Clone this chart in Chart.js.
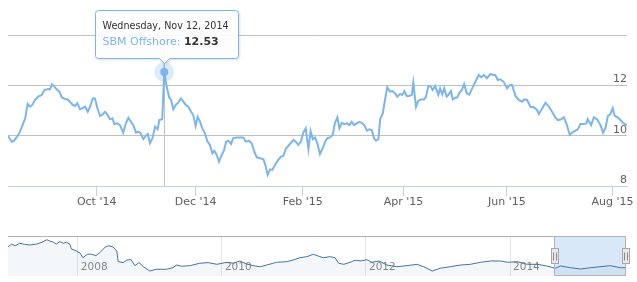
<!DOCTYPE html>
<html>
<head>
<meta charset="utf-8">
<title>SBM Offshore</title>
<script src="https://cdn.jsdelivr.net/npm/chart.js@4.4.0/dist/chart.umd.min.js"></script>
<style>
  html, body { margin: 0; padding: 0; background: #fff; }
  #wrap { position: relative; width: 637px; height: 282px; overflow: hidden; }
  #main { position: absolute; left: 0; top: 0; }
  #nav  { position: absolute; left: 0; top: 225px; }
</style>
</head>
<body>
<div id="wrap">
  <canvas id="main" width="637" height="225"></canvas>
  <canvas id="nav" width="637" height="57"></canvas>
</div>
<script>
// ── Data ──────────────────────────────────────────────────────────────────
const seriesName = 'SBM Offshore';

// position on the ordinal (trading-day) axis, mid Aug 2014 → mid Aug 2015
const tradingDay = [
  0, 1.5, 2.4, 3.5, 4.9, 6.2, 7.0, 8.0, 9.0, 9.9,
  11.0, 12.3, 13.7, 14.8, 16.4, 17.1, 17.9, 18.9, 19.8, 20.9,
  21.9, 23.2, 24.3, 25.2, 26.3, 27.3, 28.2, 29.3, 30.3, 31.4,
  32.5, 33.4, 34.5, 35.4, 36.4, 37.5, 38.6, 39.5, 40.4, 41.5,
  42.5, 43.3, 44.5, 45.6, 46.9, 48.0, 49.0, 50.1, 51.0, 52.1,
  53.1, 54.0, 55.1, 56.1, 56.9, 57.8, 58.8, 59.9, 60.9, 61.6,
  62.8, 63.6, 64.6, 65.6, 66.4, 67.3, 68.3, 69.3, 70.4, 71.4,
  72.4, 73.4, 74.5, 75.4, 76.4, 77.2, 78.2, 79.1, 80.2, 81.1,
  82.2, 83.2, 84.0, 85.0, 85.9, 87.0, 87.9, 88.8, 89.7, 90.8,
  91.7, 93.1, 94.9, 95.8, 96.8, 98.1, 99.2, 100.3, 101.3, 102.6,
  104.0, 104.9, 105.7, 106.7, 107.6, 108.7, 109.8, 111.0, 112.1, 113.2,
  114.1, 115.2, 116.2, 117.1, 118.2, 119.2, 120.2, 121.2, 122.3, 123.2,
  124.1, 125.0, 125.9, 127.0, 128.1, 129.1, 130.0, 131.1, 132.2, 133.1,
  134.1, 134.9, 135.9, 136.9, 137.9, 139.0, 139.9, 140.9, 142.0, 143.0,
  144.0, 145.0, 146.1, 147.1, 148.1, 149.0, 149.8, 150.8, 151.5, 152.6,
  153.5, 154.4, 155.5, 156.5, 157.6, 158.5, 159.6, 160.5, 161.4, 162.3,
  163.3, 164.4, 165.0, 166.1, 167.1, 168.2, 169.4, 170.2, 171.1, 172.1,
  172.9, 173.9, 174.6, 175.2, 175.9, 176.8, 177.6, 178.6, 179.3, 180.3,
  181.1, 182.3, 182.9, 183.8, 184.7, 185.7, 186.8, 187.8, 189.6, 191.6,
  192.6, 193.7, 195.0, 196.4, 197.5, 198.4, 199.4, 200.4, 201.8, 203.2,
  204.3, 205.2, 206.6, 207.9, 209.3, 210.2, 211.3, 212.7, 214.0, 215.4,
  216.1, 217.1, 218.8, 220.2, 221.5, 222.8, 223.8, 225.2, 226.3, 227.3,
  228.7, 229.6, 231.0, 232.0, 233.0, 234.4, 235.5, 236.0, 237.4, 238.5,
  239.8, 241.2, 242.3, 243.2, 244.2, 245.2, 246.2, 247.0, 248.2, 249.6,
  250.6, 252.0
];

const price = [
  10.00, 9.76, 9.79, 9.93, 10.16, 10.49, 10.69, 11.26, 11.15, 11.22,
  11.42, 11.55, 11.62, 11.81, 11.85, 11.84, 12.04, 11.95, 11.84, 11.75,
  11.52, 11.46, 11.44, 11.35, 11.22, 11.18, 11.29, 11.05, 11.09, 11.15,
  10.95, 11.15, 11.48, 11.48, 11.09, 10.78, 10.85, 10.95, 10.85, 10.65,
  10.69, 10.46, 10.49, 10.42, 10.12, 10.49, 10.71, 10.55, 10.42, 10.12,
  10.16, 10.09, 9.86, 9.99, 10.07, 9.70, 9.90, 10.36, 10.25, 10.62,
  10.65, 12.53, 11.95, 11.52, 11.42, 11.05, 11.22, 11.31, 11.48, 11.35,
  11.22, 11.15, 10.95, 10.82, 10.38, 10.75, 10.55, 10.29, 10.09, 9.79,
  9.63, 9.30, 9.40, 9.23, 8.97, 9.23, 9.40, 9.76, 9.80, 9.67,
  9.90, 9.93, 9.93, 9.93, 9.76, 9.79, 9.70, 9.36, 9.14, 9.10,
  9.06, 8.79, 8.44, 8.66, 8.64, 8.83, 9.01, 9.16, 9.19, 9.50,
  9.59, 9.72, 9.83, 9.76, 9.63, 9.76, 10.12, 10.29, 9.46, 10.18,
  9.86, 9.93, 9.70, 9.27, 9.50, 9.76, 9.90, 9.93, 10.03, 10.51,
  10.73, 10.29, 10.51, 10.46, 10.49, 10.42, 10.55, 10.42, 10.49, 10.55,
  10.51, 10.42, 10.20, 10.25, 10.22, 9.90, 9.80, 9.86, 10.65, 10.89,
  11.44, 11.92, 11.75, 11.77, 11.68, 11.55, 11.66, 11.62, 11.77, 11.58,
  11.58, 11.62, 12.10, 11.15, 11.39, 11.44, 11.44, 11.55, 11.97, 11.95,
  11.81, 11.97, 11.79, 11.62, 11.88, 11.64, 11.88, 11.55, 11.62, 11.77,
  11.44, 11.52, 11.52, 11.71, 11.81, 12.05, 11.68, 11.64, 12.01, 12.41,
  12.32, 12.41, 12.28, 12.45, 12.41, 12.41, 12.21, 12.24, 12.14, 11.88,
  12.01, 12.01, 11.58, 11.42, 11.35, 11.44, 11.42, 11.15, 11.13, 11.02,
  10.86, 11.02, 11.31, 11.15, 10.95, 10.73, 10.62, 10.65, 10.73, 10.49,
  10.03, 10.12, 10.20, 10.25, 10.46, 10.46, 10.49, 10.65, 10.42, 10.73,
  10.65, 10.42, 10.12, 10.29, 10.78, 10.86, 11.09, 10.78, 10.73, 10.59,
  10.49, 10.42
];

const dayRange        = [0, 252];
const monthTickPos    = [36.1, 76.4, 120.0, 161.0, 203.1, 246.1];
const monthTickLabels = ["Oct '14", "Dec '14", "Feb '15", "Apr '15", "Jun '15", "Aug '15"];
const priceTicks      = [8, 10, 12, 14];

const hoverDay   = 63.6;
const hoverLabel = 'Wednesday, Nov 12, 2014';

// navigator: full history since early 2007 (decimal years)
const navYear = [
  2007.03, 2007.08, 2007.13, 2007.19, 2007.26, 2007.33, 2007.43, 2007.50, 2007.57, 2007.61,
  2007.66, 2007.70, 2007.75, 2007.80, 2007.84, 2007.89, 2007.91, 2007.98, 2008.03, 2008.07,
  2008.13, 2008.19, 2008.25, 2008.31, 2008.38, 2008.43, 2008.49, 2008.54, 2008.56, 2008.63,
  2008.68, 2008.74, 2008.79, 2008.85, 2008.91, 2009.00, 2009.09, 2009.23, 2009.32, 2009.37,
  2009.44, 2009.56, 2009.69, 2009.81, 2009.93, 2010.07, 2010.16, 2010.25, 2010.34, 2010.43,
  2010.53, 2010.62, 2010.76, 2010.90, 2010.99, 2011.08, 2011.18, 2011.27, 2011.36, 2011.41,
  2011.50, 2011.57, 2011.62, 2011.69, 2011.78, 2011.85, 2011.93, 2012.01, 2012.08, 2012.18,
  2012.29, 2012.43, 2012.57, 2012.71, 2012.80, 2012.92, 2013.03, 2013.17, 2013.31, 2013.45,
  2013.59, 2013.73, 2013.87, 2013.96, 2014.10, 2014.24, 2014.38, 2014.51, 2014.63, 2014.70,
  2014.84, 2014.98, 2015.12, 2015.25, 2015.39, 2015.53, 2015.61
];
const navValue = [
  27.1, 29.1, 27.9, 29.9, 29.1, 28.5, 29.3, 30.8, 32.9, 31.8,
  30.8, 29.3, 31.3, 29.9, 30.8, 29.1, 25.2, 23.5, 21.8, 17.9,
  20.8, 20.8, 19.6, 22.4, 26.8, 27.9, 26.8, 23.5, 14.6, 13.8,
  16.0, 16.3, 11.3, 13.8, 10.4, 6.8, 8.3, 8.3, 9.6, 11.8,
  10.8, 11.3, 13.3, 13.8, 12.4, 14.1, 13.3, 15.2, 12.7, 11.3,
  10.4, 11.8, 14.1, 14.6, 16.0, 17.9, 18.8, 20.8, 18.8, 17.9,
  18.8, 17.9, 13.3, 12.4, 14.1, 15.8, 15.2, 16.3, 14.1, 15.2,
  11.8, 10.4, 11.3, 12.4, 10.4, 6.8, 9.1, 10.4, 11.8, 12.4,
  14.1, 15.2, 15.2, 14.1, 14.6, 12.4, 12.4, 11.0, 9.1, 11.0,
  9.6, 8.5, 9.6, 10.4, 11.3, 9.6, 9.6
];
const navRange      = [2007.03, 2015.61];
const navValueRange = [2.67, 36];
const navTickYears  = [2008, 2010, 2012, 2014];
const navSelection  = [2014.615, 2015.61];

// ── Shared look ───────────────────────────────────────────────────────────
Chart.defaults.font.family = "'DejaVu Sans', Verdana, sans-serif";
Chart.defaults.animation = false;

const LINE_COLOR = '#7cb5ec';
const LABEL_COLOR = '#606060';

function hoverPoint(chart) {
  const idx = tradingDay.indexOf(hoverDay);
  return { el: chart.getDatasetMeta(0).data[idx], value: price[idx] };
}

// ── Crosshair, hover marker and tooltip ───────────────────────────────────
const hoverPlugin = {
  id: 'hover',
  beforeDatasetsDraw(chart) {
    const { ctx, chartArea } = chart;
    const { el } = hoverPoint(chart);
    const x = Math.round(el.x) + 0.5;
    ctx.save();
    ctx.strokeStyle = '#c0c0c0';
    ctx.lineWidth = 1;
    ctx.beginPath();
    ctx.moveTo(x, chartArea.top);
    ctx.lineTo(x, chartArea.bottom);
    ctx.stroke();
    ctx.restore();
  },
  afterDatasetsDraw(chart) {
    const { ctx } = chart;
    const { el, value } = hoverPoint(chart);
    const px = el.x, py = el.y;

    ctx.save();
    // halo + marker
    ctx.fillStyle = 'rgba(124,181,236,0.25)';
    ctx.beginPath(); ctx.arc(px, py, 10, 0, Math.PI * 2); ctx.fill();
    ctx.fillStyle = LINE_COLOR;
    ctx.beginPath(); ctx.arc(px, py, 4, 0, Math.PI * 2); ctx.fill();

    // callout box
    const cx = Math.round(px) + 0.5;
    const bw = 143, bh = 48, r = 3;
    const bx = cx - 69, by = 10.5;
    const tipY = by + bh + 5;
    ctx.beginPath();
    ctx.moveTo(bx + r, by);
    ctx.lineTo(bx + bw - r, by);
    ctx.arcTo(bx + bw, by, bx + bw, by + r, r);
    ctx.lineTo(bx + bw, by + bh - r);
    ctx.arcTo(bx + bw, by + bh, bx + bw - r, by + bh, r);
    ctx.lineTo(cx + 5, by + bh);
    ctx.lineTo(cx, tipY);
    ctx.lineTo(cx - 5, by + bh);
    ctx.lineTo(bx + r, by + bh);
    ctx.arcTo(bx, by + bh, bx, by + bh - r, r);
    ctx.lineTo(bx, by + r);
    ctx.arcTo(bx, by, bx + r, by, r);
    ctx.closePath();
    ctx.shadowColor = 'rgba(0,0,0,0.18)';
    ctx.shadowBlur = 3;
    ctx.shadowOffsetX = 1;
    ctx.shadowOffsetY = 1;
    ctx.fillStyle = 'rgba(255,255,255,0.94)';
    ctx.fill();
    ctx.shadowColor = 'transparent';
    ctx.strokeStyle = LINE_COLOR;
    ctx.lineWidth = 1;
    ctx.stroke();

    // text
    const tx = bx + 7;
    ctx.textBaseline = 'middle';
    ctx.textAlign = 'left';
    ctx.font = "9.6px 'DejaVu Sans'";
    ctx.fillStyle = '#333333';
    ctx.fillText(hoverLabel, tx, by + 16);

    ctx.font = "11px 'DejaVu Sans'";
    ctx.fillStyle = LINE_COLOR;
    const nameText = seriesName + ': ';
    ctx.fillText(nameText, tx, by + 32);
    const w = ctx.measureText(nameText).width;
    ctx.font = "bold 11px 'DejaVu Sans'";
    ctx.fillStyle = '#333333';
    ctx.fillText(value.toFixed(2), tx + w, by + 32);
    ctx.restore();
  }
};

// ── Main price chart ──────────────────────────────────────────────────────
new Chart(document.getElementById('main'), {
  type: 'line',
  data: {
    datasets: [{
      label: seriesName,
      data: tradingDay.map((d, i) => ({ x: d, y: price[i] })),
      borderColor: LINE_COLOR,
      borderWidth: 2,
      pointRadius: 0,
      tension: 0,
      fill: false
    }]
  },
  options: {
    responsive: false,
    events: [],
    layout: { padding: { left: 8, right: 10, top: 35, bottom: 15.8 } },
    plugins: { legend: { display: false }, tooltip: { enabled: false } },
    scales: {
      x: {
        type: 'linear',
        min: dayRange[0],
        max: dayRange[1],
        afterBuildTicks: axis => { axis.ticks = monthTickPos.map(v => ({ value: v })); },
        grid: { drawOnChartArea: false, drawTicks: true, tickLength: 10, color: '#c0d0e0' },
        border: { display: true, color: '#c0d0e0', width: 1 },
        ticks: {
          autoSkip: false,
          maxRotation: 0,
          padding: 0,
          color: LABEL_COLOR,
          font: { size: 11 },
          callback: (v, i) => monthTickLabels[i]
        }
      },
      y: {
        position: 'right',
        min: priceTicks[0],
        max: priceTicks[priceTicks.length - 1],
        afterBuildTicks: axis => { axis.ticks = priceTicks.map(v => ({ value: v })); },
        grid: { color: '#c0c0c0', drawTicks: false },
        border: { display: false },
        ticks: {
          mirror: true,
          padding: 0,
          labelOffset: -6,
          color: LABEL_COLOR,
          font: { size: 11 },
          callback: v => (v === priceTicks[priceTicks.length - 1] ? '' : String(v))
        }
      }
    }
  },
  plugins: [hoverPlugin]
});

// ── Navigator mask, outline and handles ───────────────────────────────────
const navPlugin = {
  id: 'navMask',
  beforeDatasetsDraw(chart) {
    const { ctx, chartArea: a, scales: { x } } = chart;
    const x0 = x.getPixelForValue(navSelection[0]);
    const x1 = x.getPixelForValue(navSelection[1]);
    ctx.save();
    ctx.fillStyle = 'rgba(128,179,236,0.3)';
    ctx.fillRect(x0, a.top, x1 - x0, a.bottom - a.top);
    ctx.restore();
  },
  afterDatasetsDraw(chart) {
    const { ctx, chartArea: a, scales: { x } } = chart;
    const x0 = Math.round(x.getPixelForValue(navSelection[0])) + 0.5;
    const x1 = Math.round(x.getPixelForValue(navSelection[1])) - 0.5;
    const top = Math.round(a.top) + 0.5;
    const bot = Math.round(a.bottom) - 0.5;
    ctx.save();
    ctx.strokeStyle = '#b2b1b6';
    ctx.lineWidth = 1;
    ctx.beginPath();
    ctx.moveTo(a.left, top); ctx.lineTo(a.right, top);
    ctx.moveTo(x0, top); ctx.lineTo(x0, bot); ctx.lineTo(x1, bot); ctx.lineTo(x1, top);
    ctx.stroke();

    // handles
    const mid = Math.round((a.top + a.bottom) / 2);
    [x0, x1].forEach(hx => {
      const left = Math.round(hx - 4) + 0.5;
      ctx.fillStyle = '#ebe7e8';
      ctx.strokeStyle = '#a8a8ab';
      ctx.fillRect(left, mid - 7.5, 7, 15);
      ctx.strokeRect(left, mid - 7.5, 7, 15);
      ctx.strokeStyle = '#8a8a8a';
      ctx.beginPath();
      ctx.moveTo(left + 2, mid - 3.5); ctx.lineTo(left + 2, mid + 4.5);
      ctx.moveTo(left + 5, mid - 3.5); ctx.lineTo(left + 5, mid + 4.5);
      ctx.stroke();
    });
    ctx.restore();
  }
};

// ── Navigator chart ───────────────────────────────────────────────────────
new Chart(document.getElementById('nav'), {
  type: 'line',
  data: {
    datasets: [{
      data: navYear.map((yr, i) => ({ x: yr, y: navValue[i] })),
      borderColor: '#4572a7',
      borderWidth: 1,
      backgroundColor: 'rgba(69,114,167,0.06)',
      fill: 'start',
      pointRadius: 0,
      tension: 0
    }]
  },
  options: {
    responsive: false,
    events: [],
    layout: { padding: { left: 8, right: 11, top: 11, bottom: 2 } },
    plugins: { legend: { display: false }, tooltip: { enabled: false } },
    scales: {
      x: {
        type: 'linear',
        min: navRange[0],
        max: navRange[1],
        afterBuildTicks: axis => { axis.ticks = navTickYears.map(v => ({ value: v })); },
        grid: { color: '#e6e6e6', drawTicks: false },
        border: { display: false },
        ticks: {
          mirror: true,
          align: 'start',
          labelOffset: 3,
          padding: 2,
          autoSkip: false,
          maxRotation: 0,
          color: '#888888',
          font: { size: 10.5 },
          callback: (v, i) => String(navTickYears[i])
        }
      },
      y: {
        display: false,
        min: navValueRange[0],
        max: navValueRange[1]
      }
    }
  },
  plugins: [navPlugin]
});
</script>
</body>
</html>
